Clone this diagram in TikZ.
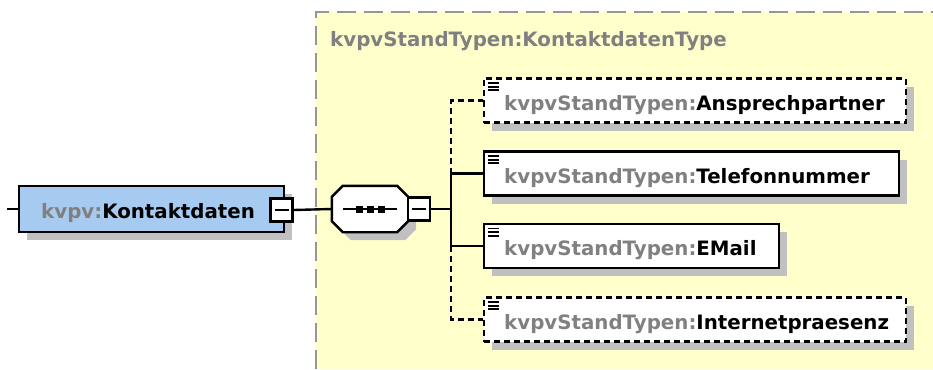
\documentclass[tikz,border=0pt]{standalone}
\usepackage{fontspec}
\setmainfont{DejaVu Sans}
\usetikzlibrary{shadows}
\definecolor{xsdyellow}{RGB}{255,255,204}
\definecolor{xsdblue}{RGB}{166,202,240}
\definecolor{xsdshadow}{RGB}{192,192,192}
\definecolor{xsdgray}{RGB}{128,128,128}
\definecolor{xsdframe}{RGB}{150,150,150}
\newcommand{\pfx}[1]{\textcolor{xsdgray}{#1}}
\tikzset{
  shade/.style={drop shadow={shadow xshift=8pt,shadow yshift=-8pt,fill=xsdshadow,opacity=1}},
  xsdfont/.style={font=\fontsize{19.8}{22}\selectfont\bfseries},
  wire/.style={line width=2.4pt},
  optional/.style={dash pattern=on 6pt off 4pt},
  elem/.style={draw, line width=2.4pt, fill=white, shade, xsdfont, anchor=west,
    minimum height=44pt, inner xsep=20pt, text width=#1, align=left,
    text height=19pt, text depth=0pt,
    path picture={\foreach \k in {0,1,2}
      \draw[solid, line width=1.8pt] ([xshift=4pt,yshift=-4.5pt-\k*3.6pt]path picture bounding box.north west) -- ++(11pt,0pt);}},
  topelem/.style={draw, line width=2.4pt, fill=xsdblue, shade, xsdfont, anchor=west,
    minimum height=46pt, inner xsep=22pt, text width=221pt, align=left,
    text height=19pt, text depth=0pt},
  seqbox/.style={rectangle, minimum width=76pt, minimum height=46pt, inner sep=0pt},
  minusbox/.style={draw, line width=2.4pt, fill=white, minimum width=22pt, minimum height=23pt, inner sep=0pt,
    path picture={\draw[line width=2.2pt] ([xshift=4pt]path picture bounding box.west) -- ([xshift=-4pt]path picture bounding box.east);}},
}
\begin{document}
\begin{tikzpicture}[x=1pt,y=-1pt]
  \useasboundingbox (0,0) rectangle (933,369);
  \fill[xsdyellow] (316,12) rectangle (933,369);
  \draw[xsdframe, line width=2.2pt, dash pattern=on 19pt off 8pt] (316,369) -- (316,12) -- (933,12);
  \node[xsdfont, text=xsdgray, anchor=base west, inner sep=0pt] (title) at (330,46) {kvpvStandTypen:KontaktdatenType};

  \node[topelem] (kd) at (18,209) {\pfx{kvpv:}Kontaktdaten};
  \node[minusbox] (kdminus) at (281.5,210) {};
  \node[seqbox] (seq) at (370,209) {};
  \draw[wire, fill=white, shade] ([xshift=11pt]seq.north west) -- ([xshift=-11pt]seq.north east)
    -- ([yshift=-11pt]seq.north east) -- ([yshift=11pt]seq.south east)
    -- ([xshift=-11pt]seq.south east) -- ([xshift=11pt]seq.south west)
    -- ([yshift=11pt]seq.south west) -- ([yshift=-11pt]seq.north west) -- cycle;
  \draw[wire] ([xshift=11pt]seq.west) -- ([xshift=-11pt]seq.east);
  \foreach \dx in {-11,0,11}
    \fill ([xshift=\dx pt-3.5pt,yshift=-3.5pt]seq.center) rectangle ++(7pt,7pt);
  \node[minusbox] (seqminus) at (419,209) {};

  \node[elem=382pt, optional] (ansprech) at (483,100.5) {\pfx{kvpvStandTypen:}Ansprechpartner};
  \node[elem=375pt] (tel) at (483,173.5) {\pfx{kvpvStandTypen:}Telefonnummer};
  \node[elem=255pt] (mail) at (483,246) {\pfx{kvpvStandTypen:}EMail};
  \node[elem=382pt, optional] (inet) at (483,319.5) {\pfx{kvpvStandTypen:}Internetpraesenz};

  \coordinate (lstart) at (7,209);
  \coordinate (bus) at (451,209);
  \draw[wire] (lstart) -- (kd.west);
  \draw[wire] (kdminus.east) -- (seq.west);
  \draw[wire] (seqminus.east) -- (bus);
  \draw[wire] (bus |- tel.west) -- (bus |- mail.west);
  \draw[wire] (bus |- tel.west) -- (tel.west);
  \draw[wire] (bus |- mail.west) -- (mail.west);
  \draw[wire, optional] (bus |- tel.west) |- (ansprech.west);
  \draw[wire, optional] (bus |- mail.west) |- (inet.west);
\end{tikzpicture}
\end{document}
